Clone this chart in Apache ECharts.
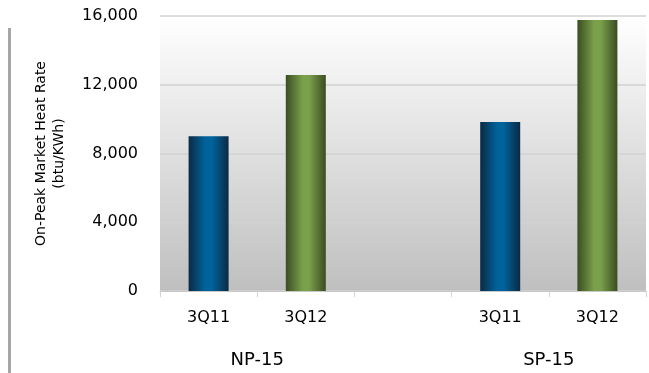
<!DOCTYPE html>
<html>
<head>
<meta charset="utf-8">
<script src="https://cdn.jsdelivr.net/npm/echarts@6/dist/echarts.min.js"></script>
<style>
  html, body { margin: 0; padding: 0; background: #fff; }
  #chart { width: 649px; height: 373px; }
  .side-rule { position: absolute; left: 8px; top: 28px; width: 3px; height: 345px; background: #a6a6a6; }
</style>
</head>
<body>
<div class="side-rule"></div>
<div id="chart"></div>
<script>
// Quarter slots, with an empty slot separating the two trading hubs
const categories = ['3Q11', '3Q12', '', '3Q11', '3Q12'];
// Hub labels sit on the boundary points between each hub's two quarters
const hubLabels = ['', '', 'NP-15', '', '', '', '', '', 'SP-15', '', ''];
// On-peak market heat rate (btu/KWh)
const heatRate3Q11 = [9000, null, null, 9830, null];
const heatRate3Q12 = [null, 12570, null, null, 15770];
const yTicks = [0, 4000, 8000, 12000, 16000];

const FONT = 'DejaVu Sans';

function barGradient(edge, mid) {
  return new echarts.graphic.LinearGradient(0, 0, 1, 0, [
    { offset: 0, color: edge },
    { offset: 0.42, color: mid },
    { offset: 0.58, color: mid },
    { offset: 1, color: edge }
  ]);
}

const chart = echarts.init(document.getElementById('chart'), null, { renderer: 'canvas' });
chart.setOption({
  animation: false,
  grid: {
    left: 160, right: 2, top: 16, bottom: 82,
    show: true,
    borderWidth: 0,
    backgroundColor: new echarts.graphic.LinearGradient(0, 0, 0, 1, [
      { offset: 0, color: '#ffffff' },
      { offset: 1, color: '#bfbfbf' }
    ])
  },
  xAxis: [
    {
      type: 'category',
      data: categories,
      axisLine: { lineStyle: { color: '#c8c8c8', width: 1 } },
      axisTick: { show: true, length: 6, lineStyle: { color: '#d4d4d4' } },
      axisLabel: { color: '#000', fontFamily: FONT, fontSize: 16, margin: 19 }
    },
    {
      type: 'category',
      position: 'bottom',
      offset: 60,
      boundaryGap: false,
      data: hubLabels,
      axisLine: { show: false },
      axisTick: { show: false },
      axisLabel: { interval: 0, color: '#000', fontFamily: FONT, fontSize: 18, margin: 0 }
    }
  ],
  yAxis: {
    type: 'value',
    min: yTicks[0],
    max: yTicks[yTicks.length - 1],
    interval: 4000,
    name: 'On-Peak Market Heat Rate\n(btu/KWh)',
    nameLocation: 'middle',
    nameGap: 92,
    nameTextStyle: { color: '#000', fontFamily: FONT, fontSize: 14, lineHeight: 18 },
    axisLine: { show: false },
    axisTick: { show: false },
    splitLine: { lineStyle: { color: '#d2d2d2', width: 1.5 } },
    axisLabel: {
      color: '#000', fontFamily: FONT, fontSize: 16, margin: 22,
      formatter: v => v.toLocaleString('en-US')
    }
  },
  series: [
    {
      name: '3Q11', type: 'bar', data: heatRate3Q11, barWidth: 40, barGap: '-100%',
      itemStyle: { color: barGradient('#0b2a44', '#00639c') }
    },
    {
      name: '3Q12', type: 'bar', data: heatRate3Q12, barWidth: 40,
      itemStyle: { color: barGradient('#3a4d22', '#7ba04b') }
    }
  ]
});
</script>
</body>
</html>
